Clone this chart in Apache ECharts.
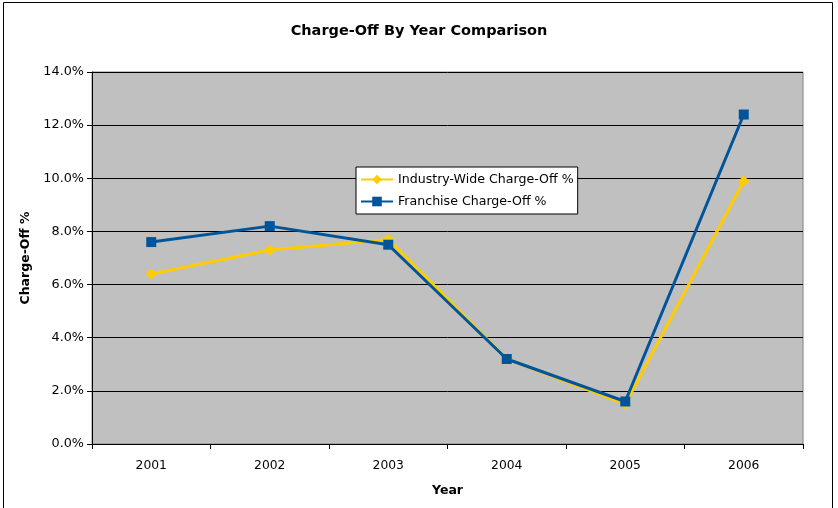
<!DOCTYPE html>
<html><head><meta charset="utf-8">
<script src="https://cdn.jsdelivr.net/npm/echarts@6/dist/echarts.min.js"></script>
<style>html,body{margin:0;padding:0;background:#fff}#c{width:838px;height:508px}</style>
</head><body><div id="c"></div>
<script>
const years = ['2001','2002','2003','2004','2005','2006'];
const industry = [6.4, 7.3, 7.7, 3.2, 1.5, 9.9];
const franchise = [7.6, 8.2, 7.5, 3.2, 1.6, 12.4];
const seriesNames = ['Industry-Wide Charge-Off %', 'Franchise Charge-Off %'];
const F = 'DejaVu Sans';
const chart = echarts.init(document.getElementById('c'));
chart.setOption({
  animation: false,
  backgroundColor: '#fff',
  title: { text: 'Charge-Off By Year Comparison', left: 'center', top: 19,
    textStyle: { fontFamily: F, fontSize: 14.5, fontWeight: 'bold', color: '#000' } },
  graphic: [{ type: 'rect', shape: { x: 3.5, y: 2.5, width: 829, height: 520 },
    style: { fill: 'none', stroke: '#000', lineWidth: 1 }, z: 100 }],
  legend: { orient: 'vertical', left: 356, top: 167, backgroundColor: '#fff',
    borderColor: '#000', borderWidth: 1, padding: [6, 4, 6, 4], itemGap: 9,
    itemWidth: 32, itemHeight: 12,
    textStyle: { fontFamily: F, fontSize: 12.6, color: '#000' },
    data: seriesNames },
  grid: { left: 92, right: 35, top: 72, bottom: 64, show: true, backgroundColor: '#C0C0C0',
    borderColor: '#808080', borderWidth: 1 },
  xAxis: { type: 'category', data: years, boundaryGap: true,
    name: 'Year', nameLocation: 'middle', nameGap: 40,
    nameTextStyle: { fontFamily: F, fontSize: 12.5, fontWeight: 'bold', color: '#000' },
    axisLine: { lineStyle: { color: '#000', width: 1 } },
    axisTick: { show: true, length: 5, lineStyle: { color: '#000' } },
    axisLabel: { fontFamily: F, fontSize: 12.3, color: '#000', margin: 16 } },
  yAxis: { type: 'value', min: 0, max: 14, interval: 2,
    name: 'Charge-Off %', nameLocation: 'middle', nameGap: 58, nameRotate: 90,
    nameTextStyle: { fontFamily: F, fontSize: 12.5, fontWeight: 'bold', color: '#000' },
    axisLine: { show: true, lineStyle: { color: '#000', width: 1 } },
    axisTick: { show: true, length: 5, lineStyle: { color: '#000' } },
    splitLine: { lineStyle: { color: '#000', width: 1 } },
    axisLabel: { fontFamily: F, fontSize: 12.8, color: '#000', margin: 8,
      formatter: v => v.toFixed(1) + '%' } },
  series: [
    { name: seriesNames[0], type: 'line', data: industry, symbol: 'diamond', symbolSize: 11,
      itemStyle: { color: '#FFCC00' }, lineStyle: { color: '#FFCC00', width: 3 } },
    { name: seriesNames[1], type: 'line', data: franchise, symbol: 'rect', symbolSize: 10,
      itemStyle: { color: '#00559A' }, lineStyle: { color: '#00559A', width: 3 } }
  ]
});
</script></body></html>
